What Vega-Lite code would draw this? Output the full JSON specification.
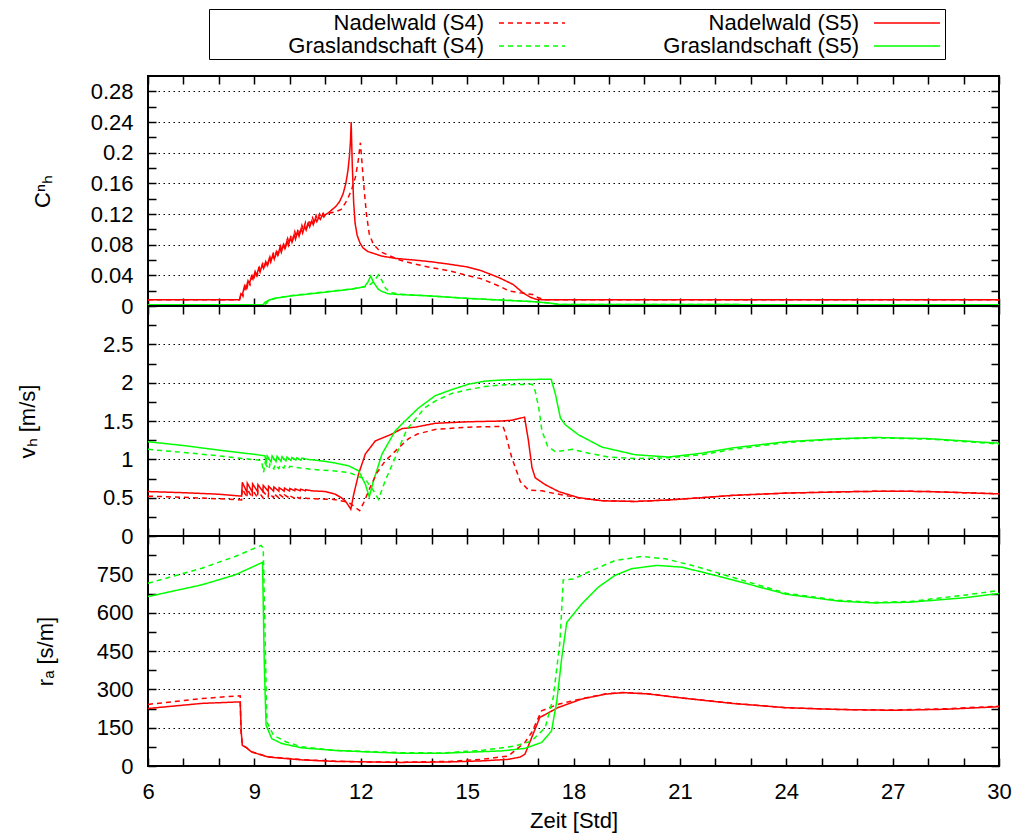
{
  "$schema": "https://vega.github.io/schema/vega-lite/v6.json",
  "padding": {"left": 15, "top": 8, "right": 5, "bottom": 5},
  "autosize": {"type": "pad"},
  "background": "white",
  "bounds": "flush",
  "spacing": 0,
  "config": {
    "font": "Liberation Sans",
    "view": {"stroke": "#000", "strokeWidth": 2},
    "line": {"strokeWidth": 1.5},
    "axis": {
      "domain": false,
      "tickColor": "#000",
      "tickWidth": 1.5,
      "tickSize": -8,
      "labelFont": "Liberation Sans",
      "labelFontSize": 22,
      "labelColor": "#000",
      "labelPadding": 23,
      "labelFlush": false,
      "labelOverlap": false,
      "titleFont": "Liberation Sans",
      "titleFontSize": 22,
      "titleFontWeight": "normal",
      "titleColor": "#000",
      "grid": false,
      "gridColor": "#000",
      "gridDash": [1.5, 3.5],
      "gridWidth": 1
    }
  },
  "datasets": {
    "C": [
      {"s":"N5","t":6,"y":0.008},{"s":"N5","t":8.58,"y":0.008},{"s":"N5","t":8.62,"y":0.016},{"s":"N5","t":8.66,"y":0.014},
      {"s":"N5","t":8.72,"y":0.026},{"s":"N5","t":8.76,"y":0.022},{"s":"N5","t":8.82,"y":0.033},{"s":"N5","t":8.86,"y":0.029},
      {"s":"N5","t":8.92,"y":0.039},{"s":"N5","t":8.96,"y":0.035},{"s":"N5","t":9.02,"y":0.045},{"s":"N5","t":9.06,"y":0.040},
      {"s":"N5","t":9.12,"y":0.049},{"s":"N5","t":9.16,"y":0.044},{"s":"N5","t":9.22,"y":0.054},{"s":"N5","t":9.26,"y":0.049},
      {"s":"N5","t":9.32,"y":0.058},{"s":"N5","t":9.36,"y":0.053},{"s":"N5","t":9.42,"y":0.062},{"s":"N5","t":9.46,"y":0.057},
      {"s":"N5","t":9.52,"y":0.067},{"s":"N5","t":9.56,"y":0.061},{"s":"N5","t":9.62,"y":0.071},{"s":"N5","t":9.66,"y":0.066},
      {"s":"N5","t":9.72,"y":0.076},{"s":"N5","t":9.76,"y":0.070},{"s":"N5","t":9.82,"y":0.080},{"s":"N5","t":9.86,"y":0.075},
      {"s":"N5","t":9.92,"y":0.085},{"s":"N5","t":9.96,"y":0.079},{"s":"N5","t":10.02,"y":0.089},{"s":"N5","t":10.06,"y":0.083},
      {"s":"N5","t":10.12,"y":0.093},{"s":"N5","t":10.16,"y":0.087},{"s":"N5","t":10.22,"y":0.097},{"s":"N5","t":10.26,"y":0.091},
      {"s":"N5","t":10.32,"y":0.101},{"s":"N5","t":10.36,"y":0.095},{"s":"N5","t":10.42,"y":0.104},{"s":"N5","t":10.46,"y":0.099},
      {"s":"N5","t":10.52,"y":0.108},{"s":"N5","t":10.56,"y":0.103},{"s":"N5","t":10.62,"y":0.111},{"s":"N5","t":10.66,"y":0.106},
      {"s":"N5","t":10.72,"y":0.114},{"s":"N5","t":10.76,"y":0.110},{"s":"N5","t":10.82,"y":0.116},{"s":"N5","t":10.86,"y":0.113},
      {"s":"N5","t":10.92,"y":0.119},{"s":"N5","t":10.96,"y":0.116},{"s":"N5","t":11.0,"y":0.119},{"s":"N5","t":11.1,"y":0.122},
      {"s":"N5","t":11.2,"y":0.126},{"s":"N5","t":11.3,"y":0.130},{"s":"N5","t":11.4,"y":0.136},{"s":"N5","t":11.5,"y":0.146},
      {"s":"N5","t":11.58,"y":0.160},{"s":"N5","t":11.64,"y":0.177},{"s":"N5","t":11.68,"y":0.195},{"s":"N5","t":11.71,"y":0.215},
      {"s":"N5","t":11.73,"y":0.240},{"s":"N5","t":11.76,"y":0.185},{"s":"N5","t":11.8,"y":0.135},{"s":"N5","t":11.84,"y":0.108},
      {"s":"N5","t":11.9,"y":0.092},{"s":"N5","t":11.98,"y":0.082},{"s":"N5","t":12.06,"y":0.076},{"s":"N5","t":12.2,"y":0.071},
      {"s":"N5","t":12.4,"y":0.068},{"s":"N5","t":12.6,"y":0.065},{"s":"N5","t":13.0,"y":0.062},{"s":"N5","t":13.5,"y":0.060},
      {"s":"N5","t":14.0,"y":0.0576},{"s":"N5","t":14.5,"y":0.0545},{"s":"N5","t":15.0,"y":0.051},{"s":"N5","t":15.4,"y":0.046},
      {"s":"N5","t":15.9,"y":0.037},{"s":"N5","t":16.3,"y":0.028},{"s":"N5","t":16.57,"y":0.0174},{"s":"N5","t":16.8,"y":0.011},
      {"s":"N5","t":16.95,"y":0.0087},{"s":"N5","t":17.2,"y":0.008},{"s":"N5","t":30,"y":0.008},

      {"s":"N4","t":6,"y":0.008},{"s":"N4","t":8.58,"y":0.008},{"s":"N4","t":8.64,"y":0.017},{"s":"N4","t":8.68,"y":0.013},
      {"s":"N4","t":8.74,"y":0.026},{"s":"N4","t":8.78,"y":0.021},{"s":"N4","t":8.84,"y":0.033},{"s":"N4","t":8.88,"y":0.028},
      {"s":"N4","t":8.94,"y":0.039},{"s":"N4","t":8.98,"y":0.034},{"s":"N4","t":9.04,"y":0.045},{"s":"N4","t":9.08,"y":0.040},
      {"s":"N4","t":9.14,"y":0.050},{"s":"N4","t":9.18,"y":0.045},{"s":"N4","t":9.24,"y":0.055},{"s":"N4","t":9.28,"y":0.050},
      {"s":"N4","t":9.34,"y":0.059},{"s":"N4","t":9.38,"y":0.054},{"s":"N4","t":9.44,"y":0.064},{"s":"N4","t":9.48,"y":0.058},
      {"s":"N4","t":9.54,"y":0.068},{"s":"N4","t":9.58,"y":0.063},{"s":"N4","t":9.64,"y":0.073},{"s":"N4","t":9.68,"y":0.068},
      {"s":"N4","t":9.74,"y":0.078},{"s":"N4","t":9.78,"y":0.072},{"s":"N4","t":9.84,"y":0.083},{"s":"N4","t":9.88,"y":0.077},
      {"s":"N4","t":9.94,"y":0.088},{"s":"N4","t":9.98,"y":0.082},{"s":"N4","t":10.04,"y":0.092},{"s":"N4","t":10.08,"y":0.086},
      {"s":"N4","t":10.14,"y":0.097},{"s":"N4","t":10.18,"y":0.090},{"s":"N4","t":10.24,"y":0.101},{"s":"N4","t":10.28,"y":0.095},
      {"s":"N4","t":10.34,"y":0.105},{"s":"N4","t":10.38,"y":0.099},{"s":"N4","t":10.44,"y":0.109},{"s":"N4","t":10.48,"y":0.103},
      {"s":"N4","t":10.54,"y":0.112},{"s":"N4","t":10.58,"y":0.107},{"s":"N4","t":10.64,"y":0.115},{"s":"N4","t":10.68,"y":0.110},
      {"s":"N4","t":10.74,"y":0.118},{"s":"N4","t":10.78,"y":0.113},{"s":"N4","t":10.84,"y":0.120},{"s":"N4","t":10.88,"y":0.116},
      {"s":"N4","t":10.94,"y":0.121},{"s":"N4","t":10.98,"y":0.118},{"s":"N4","t":11.1,"y":0.121},{"s":"N4","t":11.3,"y":0.123},
      {"s":"N4","t":11.45,"y":0.126},{"s":"N4","t":11.6,"y":0.137},{"s":"N4","t":11.73,"y":0.150},{"s":"N4","t":11.85,"y":0.168},
      {"s":"N4","t":11.93,"y":0.190},{"s":"N4","t":11.99,"y":0.213},{"s":"N4","t":12.03,"y":0.190},{"s":"N4","t":12.08,"y":0.160},
      {"s":"N4","t":12.16,"y":0.120},{"s":"N4","t":12.24,"y":0.094},{"s":"N4","t":12.35,"y":0.081},{"s":"N4","t":12.49,"y":0.074},
      {"s":"N4","t":12.6,"y":0.070},{"s":"N4","t":12.79,"y":0.066},{"s":"N4","t":13.1,"y":0.060},{"s":"N4","t":13.54,"y":0.0545},
      {"s":"N4","t":14.0,"y":0.050},{"s":"N4","t":14.49,"y":0.046},{"s":"N4","t":15.0,"y":0.040},{"s":"N4","t":15.43,"y":0.035},
      {"s":"N4","t":15.9,"y":0.026},{"s":"N4","t":16.19,"y":0.0196},{"s":"N4","t":16.48,"y":0.0174},{"s":"N4","t":16.85,"y":0.015},
      {"s":"N4","t":17.0,"y":0.011},{"s":"N4","t":17.2,"y":0.008},{"s":"N4","t":30,"y":0.008},

      {"s":"G5","t":6,"y":0.0015},{"s":"G5","t":9.24,"y":0.0015},{"s":"G5","t":9.3,"y":0.005},{"s":"G5","t":9.4,"y":0.0075},
      {"s":"G5","t":9.57,"y":0.010},{"s":"G5","t":10.0,"y":0.013},{"s":"G5","t":11.0,"y":0.018},{"s":"G5","t":11.73,"y":0.022},
      {"s":"G5","t":12.1,"y":0.025},{"s":"G5","t":12.2,"y":0.031},{"s":"G5","t":12.28,"y":0.039},{"s":"G5","t":12.36,"y":0.031},
      {"s":"G5","t":12.49,"y":0.022},{"s":"G5","t":12.6,"y":0.019},{"s":"G5","t":12.77,"y":0.016},{"s":"G5","t":13.07,"y":0.015},
      {"s":"G5","t":14.0,"y":0.013},{"s":"G5","t":14.96,"y":0.010},{"s":"G5","t":15.9,"y":0.0078},{"s":"G5","t":16.85,"y":0.0057},
      {"s":"G5","t":17.3,"y":0.004},{"s":"G5","t":17.6,"y":0.002},{"s":"G5","t":30,"y":0.0015},

      {"s":"G4","t":6,"y":0.0015},{"s":"G4","t":9.3,"y":0.0015},{"s":"G4","t":9.36,"y":0.005},{"s":"G4","t":9.5,"y":0.0085},
      {"s":"G4","t":9.6,"y":0.010},{"s":"G4","t":10.0,"y":0.0135},{"s":"G4","t":11.0,"y":0.0185},{"s":"G4","t":11.8,"y":0.0225},
      {"s":"G4","t":12.2,"y":0.026},{"s":"G4","t":12.35,"y":0.031},{"s":"G4","t":12.5,"y":0.0405},{"s":"G4","t":12.6,"y":0.033},
      {"s":"G4","t":12.7,"y":0.023},{"s":"G4","t":12.85,"y":0.0174},{"s":"G4","t":13.1,"y":0.0155},{"s":"G4","t":13.5,"y":0.0144},
      {"s":"G4","t":14.0,"y":0.013},{"s":"G4","t":15.0,"y":0.010},{"s":"G4","t":16.0,"y":0.0078},{"s":"G4","t":16.85,"y":0.0057},
      {"s":"G4","t":17.3,"y":0.004},{"s":"G4","t":17.6,"y":0.002},{"s":"G4","t":30,"y":0.0015}
    ],
    "v": [
      {"s":"N5","t":6,"y":0.58},{"s":"N5","t":7,"y":0.565},{"s":"N5","t":8,"y":0.545},{"s":"N5","t":8.64,"y":0.52},
      {"s":"N5","t":8.66,"y":0.70},{"s":"N5","t":8.79,"y":0.57},{"s":"N5","t":8.8,"y":0.69},{"s":"N5","t":8.94,"y":0.575},
      {"s":"N5","t":8.95,"y":0.68},{"s":"N5","t":9.09,"y":0.58},{"s":"N5","t":9.1,"y":0.67},{"s":"N5","t":9.24,"y":0.58},
      {"s":"N5","t":9.25,"y":0.66},{"s":"N5","t":9.39,"y":0.585},{"s":"N5","t":9.4,"y":0.65},{"s":"N5","t":9.54,"y":0.585},
      {"s":"N5","t":9.55,"y":0.64},{"s":"N5","t":9.69,"y":0.585},{"s":"N5","t":9.7,"y":0.63},{"s":"N5","t":9.84,"y":0.585},
      {"s":"N5","t":9.85,"y":0.625},{"s":"N5","t":9.99,"y":0.588},{"s":"N5","t":10.0,"y":0.62},{"s":"N5","t":10.14,"y":0.59},
      {"s":"N5","t":10.15,"y":0.615},{"s":"N5","t":10.29,"y":0.59},{"s":"N5","t":10.3,"y":0.61},{"s":"N5","t":10.44,"y":0.59},
      {"s":"N5","t":10.45,"y":0.605},{"s":"N5","t":10.6,"y":0.59},{"s":"N5","t":10.8,"y":0.585},{"s":"N5","t":11.0,"y":0.58},
      {"s":"N5","t":11.28,"y":0.545},{"s":"N5","t":11.45,"y":0.50},{"s":"N5","t":11.56,"y":0.46},{"s":"N5","t":11.65,"y":0.40},
      {"s":"N5","t":11.72,"y":0.35},{"s":"N5","t":11.8,"y":0.54},{"s":"N5","t":11.94,"y":0.81},{"s":"N5","t":12.13,"y":1.07},
      {"s":"N5","t":12.41,"y":1.24},{"s":"N5","t":12.88,"y":1.33},{"s":"N5","t":13.16,"y":1.40},{"s":"N5","t":13.54,"y":1.42},
      {"s":"N5","t":14.1,"y":1.47},{"s":"N5","t":15.04,"y":1.49},{"s":"N5","t":15.98,"y":1.50},{"s":"N5","t":16.26,"y":1.51},
      {"s":"N5","t":16.62,"y":1.55},{"s":"N5","t":16.73,"y":1.24},{"s":"N5","t":16.83,"y":0.89},{"s":"N5","t":16.92,"y":0.76},
      {"s":"N5","t":17.2,"y":0.67},{"s":"N5","t":17.58,"y":0.58},{"s":"N5","t":18.14,"y":0.50},{"s":"N5","t":18.8,"y":0.46},
      {"s":"N5","t":19.74,"y":0.45},{"s":"N5","t":20.68,"y":0.47},{"s":"N5","t":21.62,"y":0.50},{"s":"N5","t":22.5,"y":0.53},
      {"s":"N5","t":24,"y":0.56},{"s":"N5","t":26,"y":0.58},{"s":"N5","t":27,"y":0.585},{"s":"N5","t":28,"y":0.58},
      {"s":"N5","t":30,"y":0.55},

      {"s":"N4","t":6,"y":0.52},{"s":"N4","t":7,"y":0.505},{"s":"N4","t":8,"y":0.485},{"s":"N4","t":8.64,"y":0.47},
      {"s":"N4","t":8.66,"y":0.62},{"s":"N4","t":8.79,"y":0.50},{"s":"N4","t":8.8,"y":0.61},{"s":"N4","t":8.94,"y":0.50},
      {"s":"N4","t":8.95,"y":0.60},{"s":"N4","t":9.09,"y":0.50},{"s":"N4","t":9.1,"y":0.59},{"s":"N4","t":9.24,"y":0.50},
      {"s":"N4","t":9.25,"y":0.58},{"s":"N4","t":9.39,"y":0.50},{"s":"N4","t":9.4,"y":0.565},{"s":"N4","t":9.54,"y":0.50},
      {"s":"N4","t":9.55,"y":0.555},{"s":"N4","t":9.69,"y":0.495},{"s":"N4","t":9.7,"y":0.545},{"s":"N4","t":9.84,"y":0.495},
      {"s":"N4","t":9.85,"y":0.535},{"s":"N4","t":9.99,"y":0.495},{"s":"N4","t":10.0,"y":0.525},{"s":"N4","t":10.14,"y":0.49},
      {"s":"N4","t":10.15,"y":0.515},{"s":"N4","t":10.29,"y":0.49},{"s":"N4","t":10.3,"y":0.505},{"s":"N4","t":10.5,"y":0.49},
      {"s":"N4","t":11.0,"y":0.48},{"s":"N4","t":11.19,"y":0.48},{"s":"N4","t":11.66,"y":0.44},{"s":"N4","t":11.97,"y":0.33},
      {"s":"N4","t":12.1,"y":0.45},{"s":"N4","t":12.25,"y":0.62},{"s":"N4","t":12.45,"y":0.82},{"s":"N4","t":12.69,"y":0.98},
      {"s":"N4","t":13.07,"y":1.15},{"s":"N4","t":13.35,"y":1.27},{"s":"N4","t":13.6,"y":1.33},{"s":"N4","t":14.1,"y":1.39},
      {"s":"N4","t":15.04,"y":1.42},{"s":"N4","t":16.01,"y":1.43},{"s":"N4","t":16.06,"y":1.37},{"s":"N4","t":16.26,"y":1.02},
      {"s":"N4","t":16.5,"y":0.71},{"s":"N4","t":16.73,"y":0.60},{"s":"N4","t":17.11,"y":0.59},{"s":"N4","t":17.4,"y":0.56},
      {"s":"N4","t":17.87,"y":0.52},{"s":"N4","t":18.14,"y":0.50},{"s":"N4","t":18.8,"y":0.46},{"s":"N4","t":19.74,"y":0.45},
      {"s":"N4","t":20.68,"y":0.47},{"s":"N4","t":21.62,"y":0.50},{"s":"N4","t":22.5,"y":0.53},{"s":"N4","t":24,"y":0.56},
      {"s":"N4","t":26,"y":0.58},{"s":"N4","t":27,"y":0.585},{"s":"N4","t":28,"y":0.58},{"s":"N4","t":30,"y":0.55},

      {"s":"G5","t":6,"y":1.23},{"s":"G5","t":7,"y":1.18},{"s":"G5","t":8,"y":1.12},{"s":"G5","t":9,"y":1.065},
      {"s":"G5","t":9.3,"y":1.046},{"s":"G5","t":9.33,"y":0.94},{"s":"G5","t":9.36,"y":1.045},{"s":"G5","t":9.47,"y":0.965},
      {"s":"G5","t":9.5,"y":1.045},{"s":"G5","t":9.61,"y":0.97},{"s":"G5","t":9.64,"y":1.04},{"s":"G5","t":9.75,"y":0.975},
      {"s":"G5","t":9.78,"y":1.035},{"s":"G5","t":9.89,"y":0.98},{"s":"G5","t":9.92,"y":1.03},{"s":"G5","t":10.03,"y":0.985},
      {"s":"G5","t":10.06,"y":1.025},{"s":"G5","t":10.17,"y":0.99},{"s":"G5","t":10.2,"y":1.02},{"s":"G5","t":10.31,"y":0.99},
      {"s":"G5","t":10.34,"y":1.015},{"s":"G5","t":10.5,"y":1.0},{"s":"G5","t":10.8,"y":0.985},{"s":"G5","t":11.19,"y":0.96},
      {"s":"G5","t":11.66,"y":0.915},{"s":"G5","t":11.94,"y":0.85},{"s":"G5","t":12.13,"y":0.675},{"s":"G5","t":12.24,"y":0.51},
      {"s":"G5","t":12.36,"y":0.72},{"s":"G5","t":12.6,"y":1.07},{"s":"G5","t":12.97,"y":1.37},{"s":"G5","t":13.16,"y":1.46},
      {"s":"G5","t":13.63,"y":1.67},{"s":"G5","t":14.1,"y":1.83},{"s":"G5","t":14.57,"y":1.91},{"s":"G5","t":15.04,"y":1.98},
      {"s":"G5","t":15.5,"y":2.02},{"s":"G5","t":15.98,"y":2.035},{"s":"G5","t":16.45,"y":2.04},{"s":"G5","t":17.37,"y":2.045},
      {"s":"G5","t":17.49,"y":1.85},{"s":"G5","t":17.63,"y":1.54},{"s":"G5","t":17.77,"y":1.45},{"s":"G5","t":18.14,"y":1.32},
      {"s":"G5","t":18.8,"y":1.16},{"s":"G5","t":19.74,"y":1.06},{"s":"G5","t":20.68,"y":1.03},{"s":"G5","t":21.62,"y":1.08},
      {"s":"G5","t":22.5,"y":1.15},{"s":"G5","t":24,"y":1.23},{"s":"G5","t":25.5,"y":1.27},{"s":"G5","t":26.5,"y":1.285},
      {"s":"G5","t":28,"y":1.27},{"s":"G5","t":30,"y":1.21},

      {"s":"G4","t":6,"y":1.13},{"s":"G4","t":7,"y":1.09},{"s":"G4","t":8,"y":1.045},{"s":"G4","t":9.2,"y":0.985},
      {"s":"G4","t":9.26,"y":0.83},{"s":"G4","t":9.3,"y":0.95},{"s":"G4","t":9.41,"y":0.87},{"s":"G4","t":9.44,"y":0.94},
      {"s":"G4","t":9.55,"y":0.875},{"s":"G4","t":9.58,"y":0.93},{"s":"G4","t":9.69,"y":0.88},{"s":"G4","t":9.72,"y":0.925},
      {"s":"G4","t":9.83,"y":0.885},{"s":"G4","t":9.86,"y":0.915},{"s":"G4","t":9.97,"y":0.885},{"s":"G4","t":10.0,"y":0.91},
      {"s":"G4","t":10.25,"y":0.89},{"s":"G4","t":10.6,"y":0.87},{"s":"G4","t":11.19,"y":0.85},{"s":"G4","t":11.66,"y":0.83},
      {"s":"G4","t":12.13,"y":0.74},{"s":"G4","t":12.36,"y":0.59},{"s":"G4","t":12.5,"y":0.48},{"s":"G4","t":12.69,"y":0.72},
      {"s":"G4","t":12.97,"y":1.02},{"s":"G4","t":13.16,"y":1.24},{"s":"G4","t":13.3,"y":1.39},{"s":"G4","t":13.8,"y":1.67},
      {"s":"G4","t":14.1,"y":1.76},{"s":"G4","t":14.57,"y":1.86},{"s":"G4","t":15.04,"y":1.91},{"s":"G4","t":15.5,"y":1.95},
      {"s":"G4","t":15.98,"y":1.97},{"s":"G4","t":16.83,"y":1.98},{"s":"G4","t":16.92,"y":1.89},{"s":"G4","t":17.02,"y":1.67},
      {"s":"G4","t":17.11,"y":1.37},{"s":"G4","t":17.27,"y":1.17},{"s":"G4","t":17.49,"y":1.10},{"s":"G4","t":17.96,"y":1.13},
      {"s":"G4","t":18.43,"y":1.08},{"s":"G4","t":18.99,"y":1.03},{"s":"G4","t":19.74,"y":1.01},{"s":"G4","t":20.68,"y":1.02},
      {"s":"G4","t":21.62,"y":1.06},{"s":"G4","t":22.5,"y":1.13},{"s":"G4","t":24,"y":1.22},{"s":"G4","t":25.5,"y":1.265},
      {"s":"G4","t":26.5,"y":1.28},{"s":"G4","t":28,"y":1.265},{"s":"G4","t":30,"y":1.20}
    ],
    "r": [
      {"s":"N5","t":6,"y":225},{"s":"N5","t":7.52,"y":245},{"s":"N5","t":8.6,"y":251},{"s":"N5","t":8.63,"y":133},
      {"s":"N5","t":8.66,"y":81},{"s":"N5","t":8.78,"y":71},{"s":"N5","t":8.92,"y":55},{"s":"N5","t":9.39,"y":35},
      {"s":"N5","t":10.33,"y":24},{"s":"N5","t":11.27,"y":18},{"s":"N5","t":12.2,"y":16},{"s":"N5","t":13.15,"y":14},
      {"s":"N5","t":14.5,"y":16},{"s":"N5","t":15.41,"y":20},{"s":"N5","t":16.16,"y":26},{"s":"N5","t":16.5,"y":35},
      {"s":"N5","t":16.63,"y":46},{"s":"N5","t":16.82,"y":111},{"s":"N5","t":17.05,"y":190},{"s":"N5","t":17.57,"y":229},
      {"s":"N5","t":18.23,"y":262},{"s":"N5","t":18.89,"y":281},{"s":"N5","t":19.4,"y":287},{"s":"N5","t":20.1,"y":282},
      {"s":"N5","t":21.06,"y":266},{"s":"N5","t":22.47,"y":245},{"s":"N5","t":24,"y":228},{"s":"N5","t":25.5,"y":221},
      {"s":"N5","t":27,"y":218},{"s":"N5","t":28.5,"y":222},{"s":"N5","t":30,"y":232},

      {"s":"N4","t":6,"y":241},{"s":"N4","t":7.52,"y":264},{"s":"N4","t":8.6,"y":275},{"s":"N4","t":8.62,"y":140},
      {"s":"N4","t":8.66,"y":82},{"s":"N4","t":8.78,"y":72},{"s":"N4","t":8.92,"y":56},{"s":"N4","t":9.39,"y":36},
      {"s":"N4","t":10.33,"y":25},{"s":"N4","t":11.27,"y":19},{"s":"N4","t":12.2,"y":16},{"s":"N4","t":13.15,"y":15},
      {"s":"N4","t":14.5,"y":18},{"s":"N4","t":15.41,"y":26},{"s":"N4","t":16.16,"y":39},{"s":"N4","t":16.63,"y":92},
      {"s":"N4","t":16.82,"y":131},{"s":"N4","t":17.1,"y":216},{"s":"N4","t":17.57,"y":242},{"s":"N4","t":18.23,"y":263},
      {"s":"N4","t":18.89,"y":282},{"s":"N4","t":19.4,"y":288},{"s":"N4","t":20.1,"y":283},{"s":"N4","t":21.06,"y":266},
      {"s":"N4","t":22.47,"y":246},{"s":"N4","t":24,"y":228},{"s":"N4","t":25.5,"y":221},{"s":"N4","t":27,"y":219},
      {"s":"N4","t":28.5,"y":224},{"s":"N4","t":30,"y":234},

      {"s":"G5","t":6,"y":663},{"s":"G5","t":7.52,"y":709},{"s":"G5","t":8.46,"y":748},{"s":"G5","t":9.23,"y":797},
      {"s":"G5","t":9.28,"y":395},{"s":"G5","t":9.33,"y":160},{"s":"G5","t":9.49,"y":107},{"s":"G5","t":9.77,"y":88},
      {"s":"G5","t":10.33,"y":71},{"s":"G5","t":11.27,"y":61},{"s":"G5","t":12.2,"y":55},{"s":"G5","t":13.15,"y":50},
      {"s":"G5","t":14.3,"y":50},{"s":"G5","t":15.41,"y":56},{"s":"G5","t":15.97,"y":59},{"s":"G5","t":16.63,"y":69},
      {"s":"G5","t":17.1,"y":92},{"s":"G5","t":17.38,"y":137},{"s":"G5","t":17.53,"y":255},{"s":"G5","t":17.67,"y":425},
      {"s":"G5","t":17.81,"y":562},{"s":"G5","t":18.23,"y":634},{"s":"G5","t":18.7,"y":700},{"s":"G5","t":19.17,"y":746},
      {"s":"G5","t":19.64,"y":772},{"s":"G5","t":20.35,"y":785},{"s":"G5","t":21.06,"y":778},{"s":"G5","t":22.0,"y":746},
      {"s":"G5","t":22.47,"y":729},{"s":"G5","t":24,"y":672},{"s":"G5","t":25.5,"y":645},{"s":"G5","t":26.5,"y":638},
      {"s":"G5","t":27.5,"y":641},{"s":"G5","t":29,"y":658},{"s":"G5","t":30,"y":675},

      {"s":"G4","t":6,"y":715},{"s":"G4","t":7.52,"y":774},{"s":"G4","t":8.46,"y":820},{"s":"G4","t":9.19,"y":863},
      {"s":"G4","t":9.25,"y":853},{"s":"G4","t":9.3,"y":526},{"s":"G4","t":9.35,"y":173},{"s":"G4","t":9.54,"y":120},
      {"s":"G4","t":9.9,"y":94},{"s":"G4","t":10.33,"y":75},{"s":"G4","t":11.27,"y":61},{"s":"G4","t":13.15,"y":52},
      {"s":"G4","t":14.3,"y":51},{"s":"G4","t":15.41,"y":61},{"s":"G4","t":16.35,"y":78},{"s":"G4","t":16.82,"y":98},
      {"s":"G4","t":17.2,"y":150},{"s":"G4","t":17.43,"y":268},{"s":"G4","t":17.62,"y":490},{"s":"G4","t":17.71,"y":728},
      {"s":"G4","t":18.0,"y":732},{"s":"G4","t":18.42,"y":759},{"s":"G4","t":19.17,"y":804},{"s":"G4","t":19.93,"y":820},
      {"s":"G4","t":20.59,"y":811},{"s":"G4","t":21.53,"y":778},{"s":"G4","t":22.47,"y":739},{"s":"G4","t":24,"y":676},
      {"s":"G4","t":25.5,"y":648},{"s":"G4","t":26.5,"y":640},{"s":"G4","t":27.5,"y":644},{"s":"G4","t":29,"y":668},
      {"s":"G4","t":30,"y":687}
    ]
  },
  "vconcat": [
    {
      "width": 851,
      "height": 230,
      "data": {"name": "C"},
      "resolve": {"axis": {"x": "independent", "y": "independent"}},
      "layer": [
        {
          "transform": [{"filter": "datum.s === 'N5' || datum.s === 'G5'"}],
          "mark": {"type": "line", "strokeWidth": 1.5},
          "encoding": {
            "x": {"field": "t", "type": "quantitative", "scale": {"domain": [6, 30], "nice": false, "zero": false},
              "axis": {"orient": "bottom", "values": [6,7,8,9,10,11,12,13,14,15,16,17,18,19,20,21,22,23,24,25,26,27,28,29,30], "labels": false, "title": null,
                "encode": {"ticks": {"update": {"y2": {"signal": "datum.value % 3 === 0 ? -8 : -4"}}}}}},
            "y": {"field": "y", "type": "quantitative", "scale": {"domain": [0, 0.3], "nice": false},
              "axis": {"orient": "left", "values": [0,0.02,0.04,0.06,0.08,0.1,0.12,0.14,0.16,0.18,0.2,0.22,0.24,0.26,0.28],
                "title": "Cⁿₕ", "titlePadding": 36,
                "labelExpr": "round(datum.value * 50) % 2 === 0 ? format(datum.value, '~g') : ''",
                "grid": true,
                "gridOpacity": {"condition": {"test": "round(datum.value * 50) % 2 === 0 && datum.value > 0", "value": 1}, "value": 0},
                "encode": {"ticks": {"update": {"x2": {"signal": "round(datum.value * 50) % 2 === 0 ? 8 : 4"}}}}}},
            "color": {"field": "s", "type": "nominal",
              "scale": {"domain": ["N4", "N5", "G4", "G5"], "range": ["#ff0000", "#ff0000", "#00ff00", "#00ff00"]},
              "legend": {"orient": "none", "legendX": 61, "legendY": -67, "title": null, "columns": 2, "direction": "horizontal",
                "symbolType": "M-3,0H3", "symbolSize": 484, "symbolStrokeWidth": 1.5,
                "labelFont": "Liberation Sans", "labelFontSize": 22, "labelColor": "#000", "labelLimit": 400,
                "labelAlign": "right", "labelOffset": -60, "symbolOffset": 309,
                "columnPadding": 18, "rowPadding": 0, "padding": 2, "strokeColor": "#000",
                "labelExpr": "{'N4': 'Nadelwald (S4)', 'N5': 'Nadelwald (S5)', 'G4': 'Graslandschaft (S4)', 'G5': 'Graslandschaft (S5)'}[datum.label]"}},
            "strokeDash": {"field": "s", "type": "nominal",
              "scale": {"domain": ["N4", "N5", "G4", "G5"], "range": [[5, 4], [1, 0], [5, 4], [1, 0]]},
              "legend": {"orient": "none", "legendX": 61, "legendY": -67, "title": null, "columns": 2, "direction": "horizontal",
                "symbolType": "M-3,0H3", "symbolSize": 484, "symbolStrokeWidth": 1.5,
                "labelFont": "Liberation Sans", "labelFontSize": 22, "labelColor": "#000", "labelLimit": 400,
                "labelAlign": "right", "labelOffset": -60, "symbolOffset": 309,
                "columnPadding": 18, "rowPadding": 0, "padding": 2, "strokeColor": "#000",
                "labelExpr": "{'N4': 'Nadelwald (S4)', 'N5': 'Nadelwald (S5)', 'G4': 'Graslandschaft (S4)', 'G5': 'Graslandschaft (S5)'}[datum.label]"}}
          }
        },
        {
          "transform": [{"filter": "datum.s === 'N4' || datum.s === 'G4'"}],
          "mark": {"type": "line", "strokeWidth": 1.5},
          "encoding": {
            "x": {"field": "t", "type": "quantitative", "scale": {"domain": [6, 30], "nice": false, "zero": false},
              "axis": {"orient": "top", "values": [6,7,8,9,10,11,12,13,14,15,16,17,18,19,20,21,22,23,24,25,26,27,28,29,30], "labels": false, "title": null,
                "encode": {"ticks": {"update": {"y2": {"signal": "datum.value % 3 === 0 ? 8 : 4"}}}}}},
            "y": {"field": "y", "type": "quantitative", "scale": {"domain": [0, 0.3], "nice": false},
              "axis": {"orient": "right", "values": [0,0.02,0.04,0.06,0.08,0.1,0.12,0.14,0.16,0.18,0.2,0.22,0.24,0.26,0.28], "labels": false, "title": null,
                "encode": {"ticks": {"update": {"x2": {"signal": "round(datum.value * 50) % 2 === 0 ? -8 : -4"}}}}}},
            "color": {"field": "s", "type": "nominal", "scale": {"domain": ["N4", "N5", "G4", "G5"], "range": ["#ff0000", "#ff0000", "#00ff00", "#00ff00"]}, "legend": null},
            "strokeDash": {"field": "s", "type": "nominal", "scale": {"domain": ["N4", "N5", "G4", "G5"], "range": [[5, 4], [1, 0], [5, 4], [1, 0]]}, "legend": null}
          }
        }
      ]
    },
    {
      "width": 851,
      "height": 230,
      "data": {"name": "v"},
      "resolve": {"axis": {"x": "independent", "y": "independent"}},
      "layer": [
        {
          "transform": [{"filter": "datum.s === 'N5' || datum.s === 'G5'"}],
          "mark": {"type": "line", "strokeWidth": 1.5},
          "encoding": {
            "x": {"field": "t", "type": "quantitative", "scale": {"domain": [6, 30], "nice": false, "zero": false},
              "axis": {"orient": "bottom", "values": [6,7,8,9,10,11,12,13,14,15,16,17,18,19,20,21,22,23,24,25,26,27,28,29,30], "labels": false, "title": null,
                "encode": {"ticks": {"update": {"y2": {"signal": "datum.value % 3 === 0 ? -8 : -4"}}}}}},
            "y": {"field": "y", "type": "quantitative", "scale": {"domain": [0, 3], "nice": false},
              "axis": {"orient": "left", "values": [0,0.25,0.5,0.75,1,1.25,1.5,1.75,2,2.25,2.5,2.75],
                "title": "vₕ [m/s]", "titlePadding": 63,
                "labelExpr": "round(datum.value * 4) % 2 === 0 ? format(datum.value, '~g') : ''",
                "grid": true,
                "gridOpacity": {"condition": {"test": "round(datum.value * 4) % 2 === 0 && datum.value > 0", "value": 1}, "value": 0},
                "encode": {"ticks": {"update": {"x2": {"signal": "round(datum.value * 4) % 2 === 0 ? 8 : 4"}}}}}},
            "color": {"field": "s", "type": "nominal", "scale": {"domain": ["N4", "N5", "G4", "G5"], "range": ["#ff0000", "#ff0000", "#00ff00", "#00ff00"]}, "legend": null},
            "strokeDash": {"field": "s", "type": "nominal", "scale": {"domain": ["N4", "N5", "G4", "G5"], "range": [[5, 4], [1, 0], [5, 4], [1, 0]]}, "legend": null}
          }
        },
        {
          "transform": [{"filter": "datum.s === 'N4' || datum.s === 'G4'"}],
          "mark": {"type": "line", "strokeWidth": 1.5},
          "encoding": {
            "x": {"field": "t", "type": "quantitative", "scale": {"domain": [6, 30], "nice": false, "zero": false},
              "axis": {"orient": "top", "values": [6,7,8,9,10,11,12,13,14,15,16,17,18,19,20,21,22,23,24,25,26,27,28,29,30], "labels": false, "title": null,
                "encode": {"ticks": {"update": {"y2": {"signal": "datum.value % 3 === 0 ? 8 : 4"}}}}}},
            "y": {"field": "y", "type": "quantitative", "scale": {"domain": [0, 3], "nice": false},
              "axis": {"orient": "right", "values": [0,0.25,0.5,0.75,1,1.25,1.5,1.75,2,2.25,2.5,2.75], "labels": false, "title": null,
                "encode": {"ticks": {"update": {"x2": {"signal": "round(datum.value * 4) % 2 === 0 ? -8 : -4"}}}}}},
            "color": {"field": "s", "type": "nominal", "scale": {"domain": ["N4", "N5", "G4", "G5"], "range": ["#ff0000", "#ff0000", "#00ff00", "#00ff00"]}, "legend": null},
            "strokeDash": {"field": "s", "type": "nominal", "scale": {"domain": ["N4", "N5", "G4", "G5"], "range": [[5, 4], [1, 0], [5, 4], [1, 0]]}, "legend": null}
          }
        }
      ]
    },
    {
      "width": 851,
      "height": 230,
      "data": {"name": "r"},
      "resolve": {"axis": {"x": "independent", "y": "independent"}},
      "layer": [
        {
          "transform": [{"filter": "datum.s === 'N5' || datum.s === 'G5'"}],
          "mark": {"type": "line", "strokeWidth": 1.5},
          "encoding": {
            "x": {"field": "t", "type": "quantitative", "scale": {"domain": [6, 30], "nice": false, "zero": false},
              "axis": {"orient": "bottom", "values": [6,7,8,9,10,11,12,13,14,15,16,17,18,19,20,21,22,23,24,25,26,27,28,29,30],
                "labelExpr": "datum.value % 3 === 0 ? datum.label : ''",
                "title": "Zeit [Std]", "titlePadding": 8,
                "encode": {"ticks": {"update": {"y2": {"signal": "datum.value % 3 === 0 ? -8 : -4"}}}}}},
            "y": {"field": "y", "type": "quantitative", "scale": {"domain": [0, 900], "nice": false},
              "axis": {"orient": "left", "values": [0,75,150,225,300,375,450,525,600,675,750,825],
                "title": "rₐ [s/m]", "titlePadding": 39,
                "labelExpr": "datum.value % 150 === 0 ? datum.label : ''",
                "grid": true,
                "gridOpacity": {"condition": {"test": "datum.value % 150 === 0 && datum.value > 0", "value": 1}, "value": 0},
                "encode": {"ticks": {"update": {"x2": {"signal": "datum.value % 150 === 0 ? 8 : 4"}}}}}},
            "color": {"field": "s", "type": "nominal", "scale": {"domain": ["N4", "N5", "G4", "G5"], "range": ["#ff0000", "#ff0000", "#00ff00", "#00ff00"]}, "legend": null},
            "strokeDash": {"field": "s", "type": "nominal", "scale": {"domain": ["N4", "N5", "G4", "G5"], "range": [[5, 4], [1, 0], [5, 4], [1, 0]]}, "legend": null}
          }
        },
        {
          "transform": [{"filter": "datum.s === 'N4' || datum.s === 'G4'"}],
          "mark": {"type": "line", "strokeWidth": 1.5},
          "encoding": {
            "x": {"field": "t", "type": "quantitative", "scale": {"domain": [6, 30], "nice": false, "zero": false},
              "axis": {"orient": "top", "values": [6,7,8,9,10,11,12,13,14,15,16,17,18,19,20,21,22,23,24,25,26,27,28,29,30], "labels": false, "title": null,
                "encode": {"ticks": {"update": {"y2": {"signal": "datum.value % 3 === 0 ? 8 : 4"}}}}}},
            "y": {"field": "y", "type": "quantitative", "scale": {"domain": [0, 900], "nice": false},
              "axis": {"orient": "right", "values": [0,75,150,225,300,375,450,525,600,675,750,825], "labels": false, "title": null,
                "encode": {"ticks": {"update": {"x2": {"signal": "datum.value % 150 === 0 ? -8 : -4"}}}}}},
            "color": {"field": "s", "type": "nominal", "scale": {"domain": ["N4", "N5", "G4", "G5"], "range": ["#ff0000", "#ff0000", "#00ff00", "#00ff00"]}, "legend": null},
            "strokeDash": {"field": "s", "type": "nominal", "scale": {"domain": ["N4", "N5", "G4", "G5"], "range": [[5, 4], [1, 0], [5, 4], [1, 0]]}, "legend": null}
          }
        }
      ]
    }
  ]
}
